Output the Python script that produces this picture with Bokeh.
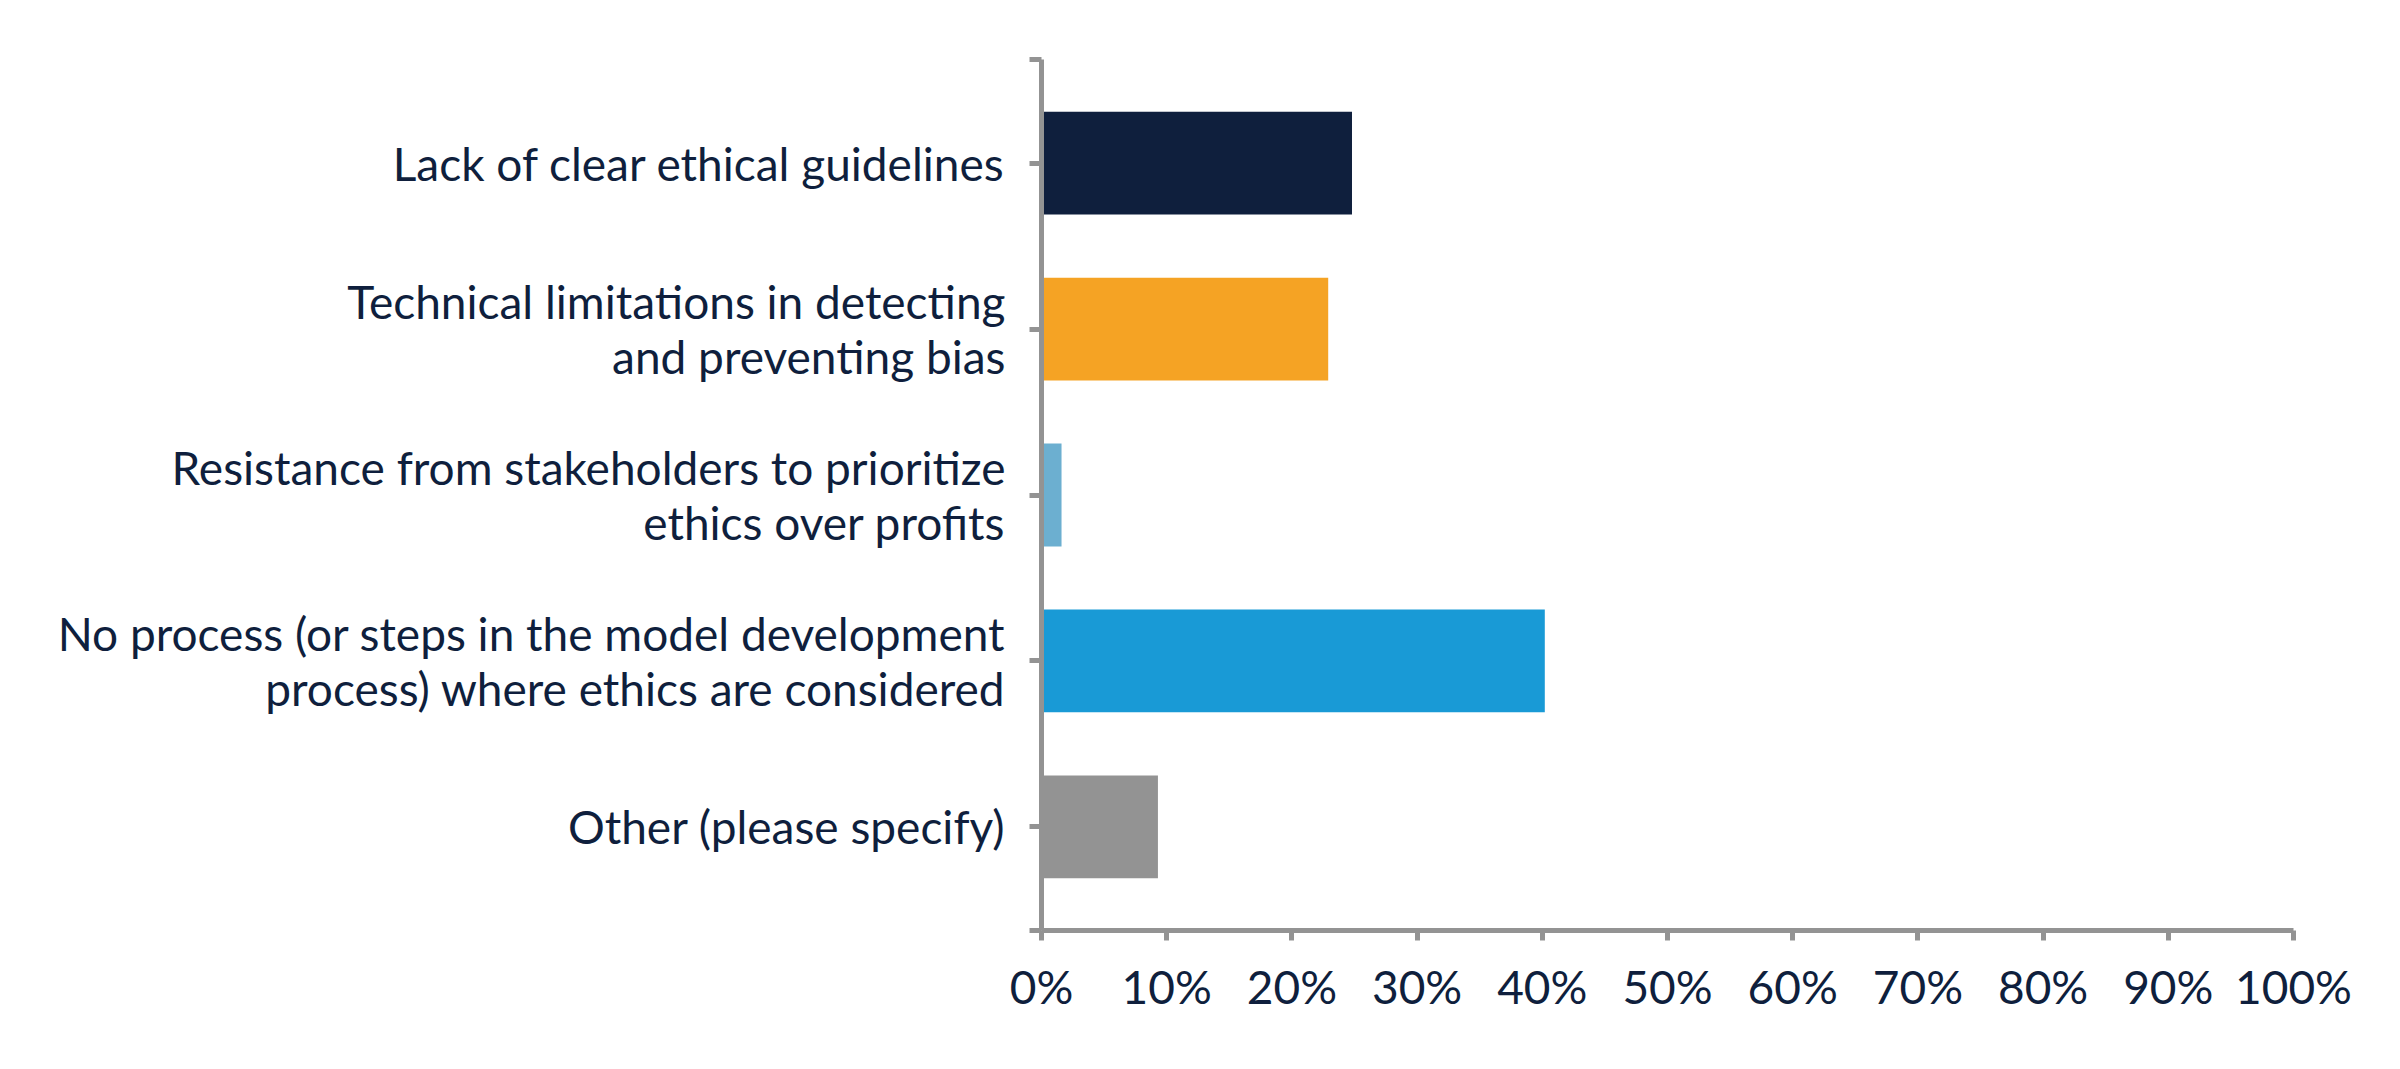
from bokeh.plotting import figure
from bokeh.models import Range1d, FixedTicker, NumeralTickFormatter
from bokeh.embed import file_html
from bokeh.resources import INLINE

categories = [
    "Lack of clear ethical guidelines",
    "Technical limitations in detecting\nand preventing bias",
    "Resistance from stakeholders to prioritize\nethics over profits",
    "No process (or steps in the model development\nprocess) where ethics are considered",
    "Other (please specify)",
]
values = [0.248, 0.229, 0.016, 0.402, 0.093]
colors = ["#0F1F3D", "#F5A324", "#6CAFD0", "#199AD6", "#939393"]
x_ticks = [i / 10 for i in range(11)]

n = len(categories)
ypos = [n - 1 - i for i in range(n)]

TEXT = "#0F1F3D"
AXIS = "#939393"
FONT = "Lato"
FS = "46px"

p = figure(width=2384, height=1053, output_backend="svg", toolbar_location=None,
           x_range=Range1d(0, 1), y_range=Range1d(-0.625, n - 1 + 0.625),
           min_border_left=1041, min_border_right=91, min_border_top=59,
           min_border_bottom=123)
p.outline_line_color = None
p.grid.grid_line_color = None
p.background_fill_color = "white"

p.hbar(y=ypos, right=values, left=0, height=0.62, color=colors, line_color=None)

ya = p.yaxis[0]
ya.ticker = FixedTicker(ticks=[-0.625] + sorted(ypos) + [n - 1 + 0.625])
ov = {-0.625: "", n - 1 + 0.625: ""}
for y, c in zip(ypos, categories):
    ov[y] = c
ya.major_label_overrides = ov
ya.minor_tick_line_color = None
ya.axis_line_color = AXIS
ya.axis_line_width = 5
ya.major_tick_line_color = AXIS
ya.major_tick_line_width = 5
ya.major_tick_in = 0
ya.major_tick_out = 12
ya.major_label_standoff = 24
ya.major_label_text_font = FONT
ya.major_label_text_font_size = FS
ya.major_label_text_color = TEXT
ya.major_label_text_line_height = 1.0

xa = p.xaxis[0]
xa.ticker = FixedTicker(ticks=x_ticks)
xa.formatter = NumeralTickFormatter(format="0%")
xa.minor_tick_line_color = None
xa.axis_line_color = AXIS
xa.axis_line_width = 5
xa.major_tick_line_color = AXIS
xa.major_tick_line_width = 5
xa.major_tick_in = 0
xa.major_tick_out = 10
xa.major_label_standoff = 18
xa.major_label_text_font = FONT
xa.major_label_text_font_size = FS
xa.major_label_text_color = TEXT

open("out.html", "w").write(file_html(p, INLINE))
